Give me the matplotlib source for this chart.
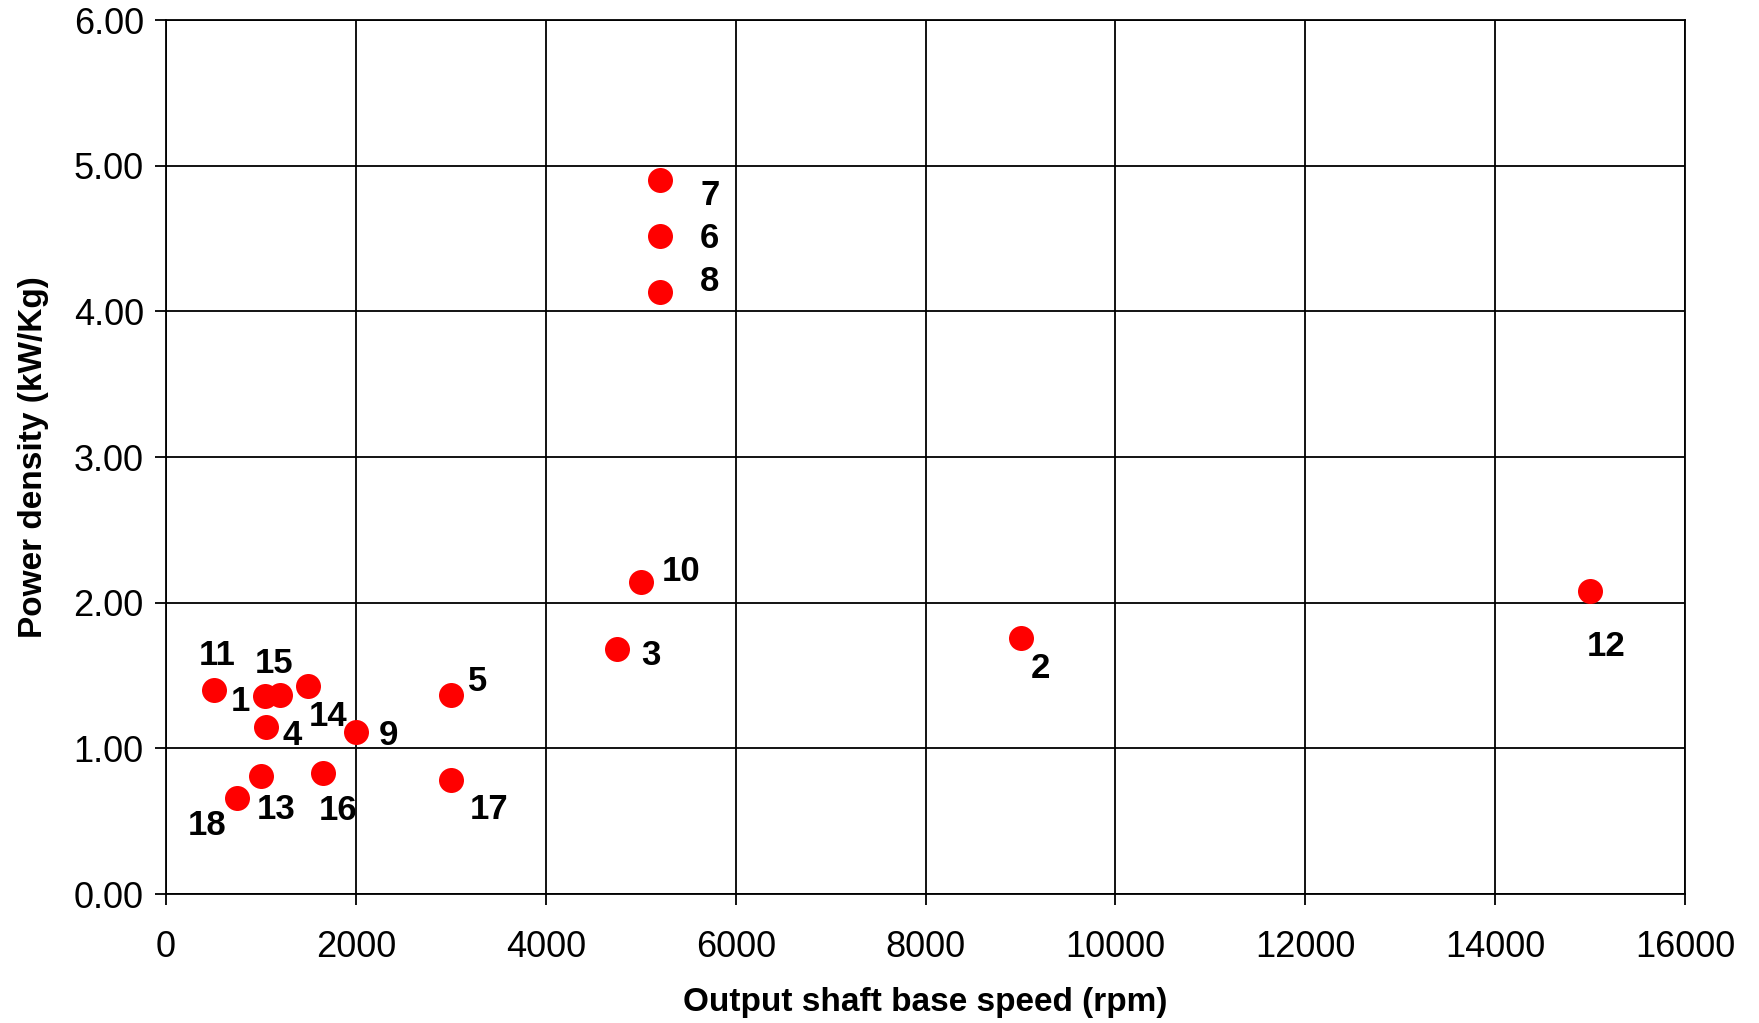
import matplotlib
matplotlib.use("Agg")
import matplotlib.pyplot as plt
from matplotlib.ticker import FormatStrFormatter

# machine number, output shaft base speed (rpm), power density (kW/Kg)
machine_ids = ["1", "2", "3", "4", "5", "6", "7", "8", "9", "10",
               "11", "12", "13", "14", "15", "16", "17", "18"]
base_speed = [1040, 9000, 4750, 1050, 3000, 5200, 5200, 5200, 2000, 5000,
              500, 15000, 1000, 1500, 1200, 1650, 3000, 750]
power_density = [1.36, 1.76, 1.68, 1.15, 1.37, 4.52, 4.90, 4.13, 1.11, 2.14,
                 1.40, 2.08, 0.81, 1.43, 1.37, 0.83, 0.78, 0.66]

x_ticks = [0, 2000, 4000, 6000, 8000, 10000, 12000, 14000, 16000]
y_ticks = [0.0, 1.0, 2.0, 3.0, 4.0, 5.0, 6.0]

# where each number sits relative to its dot (pixels)
label_offsets = {
    "1": (-24, -6), "2": (20, -31), "3": (34, -6), "4": (26, -9),
    "5": (27, 13), "6": (50, -3), "7": (50, -15), "8": (50, 11),
    "9": (33, -3), "10": (40, 11), "11": (4, 35), "12": (16, -55),
    "13": (15, -33), "14": (20, -31), "15": (-6, 31), "16": (15, -37),
    "17": (38, -29), "18": (-30, -28),
}

plt.rcParams['font.family'] = ['Liberation Sans', 'DejaVu Sans']

fig = plt.figure(figsize=(17.59, 10.23), dpi=100)
ax = fig.add_axes([0.0944, 0.126, 0.8636, 0.8544])

ax.plot(base_speed, power_density, 'o', color='#ff0000', ms=18,
        markeredgewidth=0, zorder=3)

for name, sx, pd_ in zip(machine_ids, base_speed, power_density):
    dx, dy = label_offsets[name]
    ax.annotate(name, (sx, pd_), xytext=(dx, dy), textcoords='offset pixels',
                ha='center', va='center', fontsize=25, fontweight='bold',
                color='black', zorder=4)

ax.set_xlim(0, 16000)
ax.set_ylim(0, 6)
ax.set_xticks(x_ticks)
ax.set_yticks(y_ticks)
ax.yaxis.set_major_formatter(FormatStrFormatter('%.2f'))
ax.grid(True, color='black', linewidth=1.3)
ax.set_axisbelow(True)
for sp in ax.spines.values():
    sp.set_color('black')
    sp.set_linewidth(1.3)

ax.tick_params(axis='both', direction='out', length=8, width=1.3,
               labelsize=26, color='black')
ax.tick_params(axis='x', pad=18)
ax.tick_params(axis='y', pad=8)

ax.set_xlabel('Output shaft base speed (rpm)', fontsize=24, fontweight='bold',
              labelpad=16)
ax.set_ylabel('Power density (kW/Kg)', fontsize=24, fontweight='bold',
              labelpad=18)

fig.savefig('out.png', dpi=100)
